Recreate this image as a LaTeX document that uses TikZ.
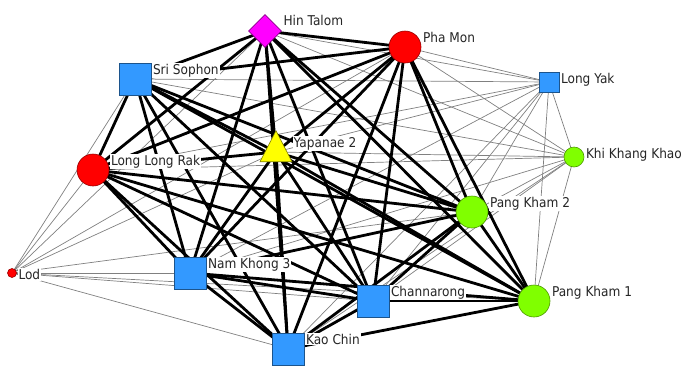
\documentclass[tikz,border=0pt]{standalone}
\usepackage{fontspec}
\setmainfont{DejaVu Sans}[FakeStretch=0.9]
\usetikzlibrary{shapes.geometric,backgrounds}

\definecolor{vblue}{RGB}{51,153,255}
\definecolor{vgreen}{RGB}{128,255,0}
\definecolor{vred}{RGB}{255,0,0}
\definecolor{vmagenta}{RGB}{255,0,255}
\definecolor{vyellow}{RGB}{255,255,0}

\begin{document}
\begin{tikzpicture}[x=1pt, y=-1pt,
  sq/.style={rectangle, draw=vblue!55!black, fill=vblue, line width=0.6pt,
             minimum size=32pt, inner sep=0pt},
  dot/.style={circle, draw=#1!60!black, fill=#1, line width=0.6pt,
              minimum size=32pt, inner sep=0pt},
  lbl/.style={anchor=north west, fill=white, inner sep=1pt, xshift=0.5pt,
              font=\fontsize{13.5}{14}\selectfont, text=black!85},
  tie/.style={line width=2.8pt},
  weak/.style={black!50, line width=0.7pt}
]
  \useasboundingbox (0,0) rectangle (687,365);

  % villages
  \node[diamond, aspect=1, draw=vmagenta!55!black, fill=vmagenta,
        line width=0.6pt, minimum size=33pt, inner sep=0pt] (ht) at (265,31) {};
  \node[dot=vred] (pm) at (405,47) {};
  \node[sq] (ss) at (135,79) {};
  \node[sq, minimum size=20pt] (ly) at (549,82) {};
  \node[isosceles triangle, shape border rotate=90, isosceles triangle stretches,
        draw=vyellow!50!black, fill=vyellow, line width=0.6pt,
        minimum width=32pt, minimum height=31pt, inner sep=0pt] (yp) at (276,152) {};
  \node[dot=vgreen, minimum size=20pt] (kkk) at (574,157) {};
  \node[dot=vred] (llr) at (93,170) {};
  \node[dot=vgreen] (pk2) at (472,212) {};
  \node[dot=vred, minimum size=9pt] (lod) at (12,273) {};
  \node[sq] (nk3) at (190,273) {};
  \node[sq] (ch) at (373,301) {};
  \node[dot=vgreen] (pk1) at (534,301) {};
  \node[sq] (kc) at (288,349) {};

  \begin{scope}[on background layer]
    % weak ties
    \foreach \a/\b in {ly/pm, ly/ht, ly/ss, ly/llr, ly/yp, ly/kkk, ly/pk2,
        ly/pk1, ly/ch, ly/nk3, ly/kc,
        kkk/pm, kkk/ht, kkk/ss, kkk/llr, kkk/yp, kkk/pk2, kkk/pk1, kkk/ch,
        kkk/nk3, kkk/kc,
        lod/ss, lod/llr, lod/ht, lod/yp, lod/pm, lod/pk2, lod/nk3, lod/ch,
        lod/pk1, lod/kc}
      \draw[weak] (\a.center) -- (\b.center);
    % strong ties
    \foreach \a/\b in {ht/pm, ht/ss, ht/yp, ht/llr, ht/pk2, ht/nk3, ht/ch,
        ht/pk1, ht/kc, pm/ss, pm/yp, pm/llr, pm/pk2, pm/nk3, pm/ch, pm/pk1,
        pm/kc, ss/yp, ss/llr, ss/pk2, ss/nk3, ss/ch, ss/pk1, ss/kc, yp/llr,
        yp/pk2, yp/nk3, yp/ch, yp/pk1, yp/kc, llr/pk2, llr/nk3, llr/ch,
        llr/pk1, llr/kc, pk2/nk3, pk2/ch, pk2/pk1, pk2/kc, nk3/ch, nk3/pk1,
        nk3/kc, ch/pk1, ch/kc, pk1/kc}
      \draw[tie] (\a.center) -- (\b.center);
  \end{scope}

  % labels
  \node[lbl] (ht-l) at (ht.north -| ht.east) {Hin Talom};
  \node[lbl] (pm-l) at (pm.north -| pm.east) {Pha Mon};
  \node[lbl] (ss-l) at (ss.north -| ss.east) {Sri Sophon};
  \node[lbl] (ly-l) at (ly.north -| ly.east) {Long Yak};
  \node[lbl] (yp-l) at (292,136) {Yapanae 2};
  \node[lbl] (kkk-l) at (kkk.north -| kkk.east) {Khi Khang Khao};
  \node[lbl] (llr-l) at (llr.north -| llr.east) {Long Long Rak};
  \node[lbl] (pk2-l) at (pk2.north -| pk2.east) {Pang Kham 2};
  \node[lbl] (lod-l) at (lod.north -| lod.east) {Lod};
  \node[lbl] (nk3-l) at (nk3.north -| nk3.east) {Nam Khong 3};
  \node[lbl] (ch-l) at (ch.north -| ch.east) {Channarong};
  \node[lbl] (pk1-l) at (pk1.north -| pk1.east) {Pang Kham 1};
  \node[lbl] (kc-l) at (kc.north -| kc.east) {Kao Chin};
\end{tikzpicture}
\end{document}
